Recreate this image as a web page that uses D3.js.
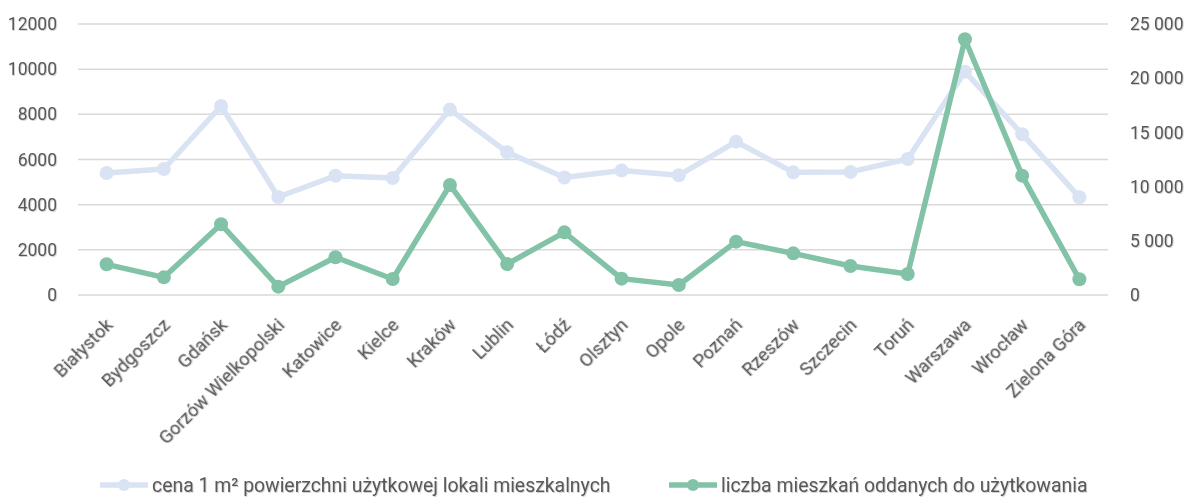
<!DOCTYPE html>
<html>
<head>
<meta charset="utf-8">
<script src="https://cdn.jsdelivr.net/npm/d3@7"></script>
<style>
  html, body { margin: 0; padding: 0; background: #fff; }
  svg { display: block; }
  text { font-family: "Roboto", "Liberation Sans", sans-serif; fill: #595959; }
</style>
</head>
<body>
<svg id="chart" width="1188" height="497"></svg>
<script>
// Cities (x axis)
const cities = ["Białystok", "Bydgoszcz", "Gdańsk", "Gorzów Wielkopolski", "Katowice", "Kielce",
  "Kraków", "Lublin", "Łódź", "Olsztyn", "Opole", "Poznań", "Rzeszów", "Szczecin", "Toruń",
  "Warszawa", "Wrocław", "Zielona Góra"];

// Price per 1 m² of usable floor area (left axis)
const price = [5400, 5580, 8370, 4340, 5280, 5180, 8210, 6320, 5200, 5510, 5300, 6790, 5430,
  5450, 6020, 9890, 7120, 4330];

// Dwellings completed (right axis)
const dwellings = [2830, 1630, 6520, 770, 3480, 1480, 10150, 2860, 5780, 1510, 920, 4920, 3840,
  2680, 1940, 23590, 11010, 1450];

const leftTicks = [0, 2000, 4000, 6000, 8000, 10000, 12000];
const rightTicks = [0, 5000, 10000, 15000, 20000, 25000];

const seriesNames = ["cena 1 m² powierzchni użytkowej lokali mieszkalnych",
  "liczba mieszkań oddanych do użytkowania"];
const colors = ["#DAE3F3", "#82C3A8"];

const svg = d3.select("#chart");
const plot = { left: 78, right: 1108, top: 24, bottom: 295 };

const x = d3.scaleBand().domain(cities).range([plot.left, plot.right]);
const yL = d3.scaleLinear().domain([0, 12000]).range([plot.bottom, plot.top]);
const yR = d3.scaleLinear().domain([0, 25000]).range([plot.bottom, plot.top]);
const cx = d => x(d) + x.bandwidth() / 2;

// soft shadow under the text
const defs = svg.append("defs");
const f = defs.append("filter").attr("id", "tshadow").attr("x", "-10%").attr("y", "-20%")
  .attr("width", "130%").attr("height", "150%");
f.append("feDropShadow").attr("dx", 0.8).attr("dy", 0.8).attr("stdDeviation", 0.6)
  .attr("flood-color", "#000").attr("flood-opacity", 0.22);

// gridlines
svg.append("g")
  .selectAll("line").data(leftTicks).join("line")
  .attr("x1", plot.left).attr("x2", plot.right)
  .attr("y1", d => yL(d)).attr("y2", d => yL(d))
  .attr("stroke", "#D9D9D9").attr("stroke-width", 1.5);

// left axis
const axL = svg.append("g").attr("transform", `translate(${plot.left},0)`)
  .call(d3.axisLeft(yL).tickValues(leftTicks).tickFormat(d3.format("d")).tickSize(0).tickPadding(21));
axL.select(".domain").remove();
axL.selectAll("text").attr("font-size", 17.5).attr("fill", "#595959").attr("filter", "url(#tshadow)")
  .attr("font-family", null);

// right axis, thousands separated by a space
const fmtR = d => d3.format(",")(d).replace(/,/g, " ");
const axR = svg.append("g").attr("transform", `translate(${plot.right},0)`)
  .call(d3.axisRight(yR).tickValues(rightTicks).tickFormat(fmtR).tickSize(0).tickPadding(22));
axR.select(".domain").remove();
axR.selectAll("text").attr("font-size", 17.5).attr("fill", "#595959").attr("filter", "url(#tshadow)")
  .attr("font-family", null);

// x axis labels, rotated -45°
const axX = svg.append("g").attr("transform", `translate(0,${plot.bottom})`)
  .call(d3.axisBottom(x).tickSize(0).tickPadding(0));
axX.select(".domain").remove();
axX.selectAll("text")
  .attr("font-size", 18.2).attr("fill", "#595959").attr("filter", "url(#tshadow)")
  .attr("font-family", null)
  .attr("text-anchor", "end").attr("y", 0).attr("dy", "0.72em")
  .attr("transform", "translate(-2,22) rotate(-45)");

// lines + markers
function drawSeries(values, scale, color) {
  const line = d3.line().x((d, i) => cx(cities[i])).y(d => scale(d));
  svg.append("path").datum(values).attr("d", line)
    .attr("fill", "none").attr("stroke", color).attr("stroke-width", 5.5)
    .attr("stroke-linejoin", "round").attr("stroke-linecap", "round");
  svg.append("g").selectAll("circle").data(values).join("circle")
    .attr("cx", (d, i) => cx(cities[i])).attr("cy", d => scale(d))
    .attr("r", 7).attr("fill", color);
}
drawSeries(price, yL, colors[0]);
drawSeries(dwellings, yR, colors[1]);

// legend
const legendItems = [
  { name: seriesNames[0], color: colors[0], x: 100 },
  { name: seriesNames[1], color: colors[1], x: 669 }
];
const lg = svg.append("g").selectAll("g").data(legendItems).join("g")
  .attr("transform", d => `translate(${d.x},485)`);
lg.append("line").attr("x1", 0).attr("x2", 48).attr("y1", 0).attr("y2", 0)
  .attr("stroke", d => d.color).attr("stroke-width", 5.5);
lg.append("circle").attr("cx", 24).attr("cy", 0).attr("r", 6).attr("fill", d => d.color);
lg.append("text").attr("x", 52).attr("y", 0).attr("dy", "0.35em")
  .attr("font-size", 19.4).attr("fill", "#595959").attr("filter", "url(#tshadow)")
  .text(d => d.name);
</script>
</body>
</html>
